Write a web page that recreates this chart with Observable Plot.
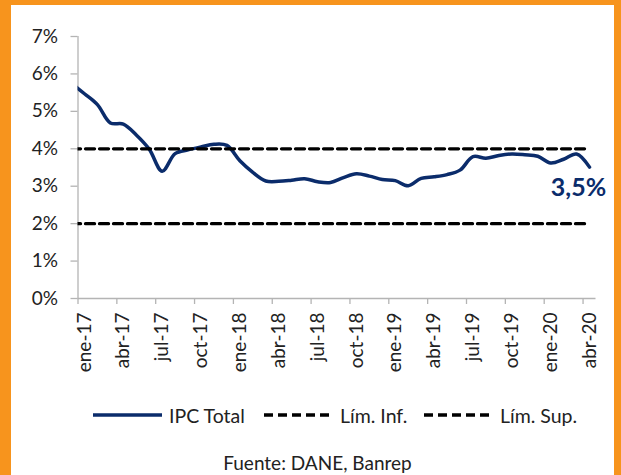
<!DOCTYPE html>
<html><head><meta charset="utf-8">
<script src="https://cdn.jsdelivr.net/npm/d3@7"></script>
<script src="https://cdn.jsdelivr.net/npm/@observablehq/plot@0.6"></script>
<style>
body{margin:0;background:#fff;}
#wrap{position:relative;width:621px;height:475px;overflow:hidden;background:#fff;font-family:Lato,sans-serif;color:#222;}
#chart{position:absolute;left:0;top:0;}
.border{position:absolute;background:#F7941D;}
#legend{position:absolute;left:0;top:403px;height:24px;width:621px;font-size:19.5px;}
.item{position:absolute;top:0;display:flex;align-items:center;height:24px;white-space:nowrap;}
.item svg{margin-right:7px;}
#caption{position:absolute;left:0;width:621px;top:451px;text-align:center;font-size:19px;padding-left:14px;box-sizing:border-box;}
</style></head><body>
<div id="wrap">
  <div id="chart"></div>
  <div id="legend"></div>
  <div id="caption"></div>
  <div class="border" style="left:0;top:0;width:11px;height:475px"></div>
  <div class="border" style="left:0;top:0;width:621px;height:5px"></div>
  <div class="border" style="left:614px;top:0;width:7px;height:475px"></div>
</div>
<script>
// Months (dic-16 lies just left of the axis start and is clipped)
const months = ["dic-16",
  "ene-17","feb-17","mar-17","abr-17","may-17","jun-17","jul-17","ago-17","sep-17","oct-17","nov-17","dic-17",
  "ene-18","feb-18","mar-18","abr-18","may-18","jun-18","jul-18","ago-18","sep-18","oct-18","nov-18","dic-18",
  "ene-19","feb-19","mar-19","abr-19","may-19","jun-19","jul-19","ago-19","sep-19","oct-19","nov-19","dic-19",
  "ene-20","feb-20","mar-20","abr-20"];
const ipcTotal = [5.75,
  5.47,5.18,4.69,4.66,4.37,3.99,3.40,3.87,3.97,4.05,4.12,4.09,
  3.68,3.37,3.14,3.13,3.16,3.20,3.12,3.10,3.23,3.33,3.27,3.18,
  3.15,3.01,3.21,3.25,3.31,3.43,3.79,3.75,3.82,3.86,3.84,3.80,
  3.62,3.72,3.86,3.51];
const limInf = 2;
const limSup = 4;
const seriesNames = ["IPC Total","Lím. Inf.","Lím. Sup."];
const xTickLabels = ["ene-17","abr-17","jul-17","oct-17","ene-18","abr-18","jul-18","oct-18","ene-19","abr-19","jul-19","oct-19","ene-20","abr-20"];
const yTicks = [0,1,2,3,4,5,6,7];
const caption = "Fuente: DANE, Banrep";

const navy = "#0b2c6b";
const gray = "#b4b4b4";
const pos = i => i - 1 + 0.5;           // month center
const ipcData = months.map((m,i)=>({pos:pos(i), v:ipcTotal[i], m}));
const limData = [limInf, limSup].flatMap((l,k)=>months.map((m,i)=>({pos:pos(i), v:l, s:seriesNames[k+1]})));
const tickPos = xTickLabels.map(l => months.indexOf(l) - 1);
const labelPos = xTickLabels.map(l => months.indexOf(l) - 0.5);
const labelMap = new Map(labelPos.map((p,i)=>[p, xTickLabels[i]]));
const last = ipcData[ipcData.length-1];
const fmt = v => d3.format(".1f")(v).replace(".", ",") + "%";

const plot = Plot.plot({
  width:621, height:395,
  marginLeft:77.5, marginRight:25.5, marginTop:36, marginBottom:97,
  style:{fontFamily:"Lato, sans-serif", fontSize:"19px", color:"#222", background:"transparent", overflow:"visible"},
  x:{domain:[0,40], label:null},
  y:{domain:[0,7], label:null},
  marks:[
    Plot.ruleX([0],{stroke:gray, strokeWidth:1.3}),
    Plot.ruleY([0],{stroke:gray, strokeWidth:1.3}),
    Plot.axisY(yTicks,{tickSize:7, tickPadding:13, tickFormat:d=>d+"%", stroke:gray, fill:"#222", fontSize:19, strokeWidth:1.3, label:null}),
    Plot.axisX(tickPos,{tickSize:6, tickFormat:()=>"", stroke:gray, strokeWidth:1.3, label:null}),
    Plot.axisX(labelPos,{tickSize:0, tickPadding:14, tickRotate:-90, tickFormat:d=>labelMap.get(d), fill:"#222", fontSize:19, label:null}),
    Plot.line(ipcData,{x:"pos", y:"v", stroke:navy, strokeWidth:3.5, curve:"catmull-rom", clip:true}),
    Plot.line(limData,{x:"pos", y:"v", z:"s", stroke:"#000", strokeWidth:3.3, strokeDasharray:"9,5", clip:true}),
    Plot.text([last],{x:"pos", y:"v", text:d=>fmt(d.v), dx:-11, dy:21, fill:navy, fontWeight:"bold", fontSize:25})
  ]
});
document.getElementById("chart").appendChild(plot);

// Legend
const legend = document.getElementById("legend");
const itemLeft = [93, 264, 424];
seriesNames.forEach((name,k)=>{
  const div = document.createElement("div");
  div.className = "item";
  div.style.left = itemLeft[k] + "px";
  const dash = k === 0 ? "" : ' stroke-dasharray="9,5"';
  const col = k === 0 ? navy : "#000";
  div.innerHTML = `<svg width="69" height="6"><line x1="0" x2="69" y1="3" y2="3" stroke="${col}" stroke-width="3.4"${dash}/></svg><span>${name}</span>`;
  legend.appendChild(div);
});
document.getElementById("caption").textContent = caption;
</script>
</body></html>
